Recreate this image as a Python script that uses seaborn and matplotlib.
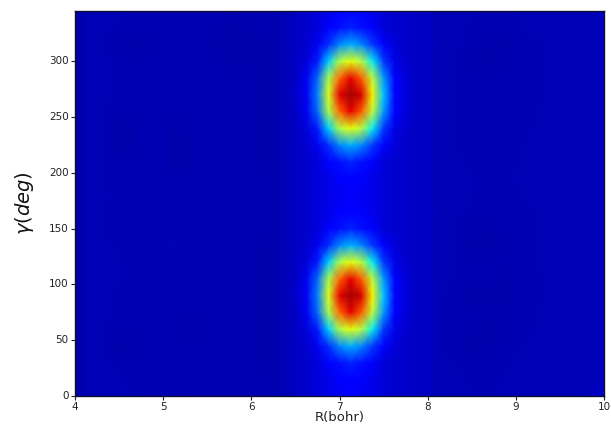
import numpy as np
import pandas as pd
import matplotlib
matplotlib.use("Agg")
import matplotlib.pyplot as plt
import seaborn as sns

# -----------------------------
# Values (percent of the colour range)
# columns: R = 4.0 ... 10.0 in steps of 0.125
# rows: gamma = 0 ... 345 in steps of 15
# -----------------------------
r_values = list(np.arange(49) * 0.125 + 4.0)
gamma_values = list(range(0, 360, 15))

x_ticks = [4, 5, 6, 7, 8, 9, 10]
y_ticks = [0, 50, 100, 150, 200, 250, 300]

g000 = [3,5,5,5,5,5,4.5,4.5,4.5,5,4.5,4.5,4.5,4.5,4.5,4.5,4.5,4.5,4.5, 5,6,7,8,9,10,11,10,9,8,7,7,6, 6,5,5,5,5,4.5,5,5,5,5,5,5,5,5,5,6,6]
g015 = [3,5,5,5,5,4.5,4.5,4.5,4.5,4.5,4.5,4.5,4.5,4.5,4.5,4.5,4.5,4.5,4.5, 5,6,7,8,9,11,12,11,9,8,7,7,6, 6,5,5,5,4.5,4.5,4.5,5,5,5,5,5,5,5,5,5,6]
g030 = [3,5,5,5,4.5,4.5,4.5,4.5,4.5,4.5,4.5,4.5,4.5,4.5,4.5,4.5,4.5,4,4.5, 5,6,7,8,11,14,16,14,11,8,7,7,6, 6,5,5,4.5,4.5,4.5,4.5,4.5,5,5,5,5,5,5,5,5,6]
g045 = [3,5,5,4.5,4,4,4.5,4.5,4.5,4.5,4.5,4.5,4.5,4.5,4.5,4.5,4.5,4,4.5, 5,6,7,10,17,26,30,26,18,11,8,7,6, 6,5,4.5,4.5,4,4,4.5,4.5,4.5,5,5,5,5,5,5,5,6]
g060 = [3,5,5,4.5,4.5,4.5,4.5,4.5,4.5,4.5,4,4,4.5,4.5,4.5,4.5,4.5,4,4.5, 5,6,8,15,33,56,63,57,36,18,9,7,6, 6,5,4.5,4.5,4.5,4,4,4.5,4.5,4.5,5,5,5,5,5,5,6]
g075 = [3,5,5,5,4.5,4.5,4.5,4.5,4.5,4.5,4.5,4.5,4.5,4.5,4.5,4.5,4.5,4,4.5, 5,6,10,23,55,80,91,81,58,28,12,8,6, 6,5,4.5,4.5,4.5,4.5,4.5,4.5,4.5,4.5,5,5,5,5,5,5,6]
g090 = [3,5,5,5,4.5,4.5,4.5,4.5,4.5,4.5,4.5,4.5,4.5,4.5,4.5,4.5,4.5,4,4.5, 5,7,10,25,61,91,97,92,65,32,13,8,6, 6,5,4.5,4.5,4,4,4,4,4.5,4.5,4.5,5,5,5,5,5,6]
g105 = [3,5,5,5,5,4.5,4.5,4.5,4.5,4.5,4.5,4.5,4.5,4.5,4.5,4.5,4.5,4,4.5, 5,6,10,23,55,80,91,81,58,28,12,8,6, 6,5,5,4.5,4.5,4.5,4.5,4,4.5,4.5,4.5,5,5,5,5,5,6]
g120 = [3,5,5,5,5,4.5,4.5,4.5,4.5,4.5,4.5,4.5,4.5,4.5,4.5,4.5,4.5,4,4.5, 5,6,8,15,33,56,63,57,36,18,9,7,6, 6,5,5,4.5,4.5,4.5,4.5,4.5,4.5,4.5,5,5,5,5,5,5,6]
g135 = [3,5,5,5,4.5,4.5,4.5,4.5,4.5,5,4.5,4.5,4.5,4.5,4.5,4.5,4.5,4,4.5, 5,6,7,10,17,26,30,26,18,11,8,7,6, 6,5,5,4.5,4,4,4,4.5,4.5,4.5,5,5,5,5,5,5,6]
g150 = [3,5,5,4.5,4.5,4.5,4.5,4.5,4.5,4.5,4.5,4.5,4.5,4.5,4.5,4.5,4.5,4.5,4.5, 5,6,7,8,11,14,16,14,11,8,7,7,6, 6,5,5,4.5,4.5,4,4.5,4.5,4.5,4.5,5,5,5,5,5,5,6]
g165 = [3,5,5,4.5,4.5,4.5,4.5,4.5,4.5,4.5,4.5,4.5,4.5,4.5,4.5,4.5,4.5,4.5,4.5, 5,6,7,8,9,11,12,11,9,8,7,7,6, 6,5,5,5,4.5,4.5,4.5,4.5,4.5,4.5,5,5,5,5,5,5,6]
g180 = [3,5,5,5,4.5,4.5,4.5,4.5,4.5,4.5,4.5,4.5,4.5,4.5,4.5,4.5,4.5,4.5,4.5, 5,6,7,8,9,10,11,10,9,8,7,7,6, 6,5,5,5,5,4.5,4.5,4.5,4.5,5,5,5,5,5,5,5,6]
g195 = [3,5,5,4.5,4.5,4.5,4.5,4.5,4.5,4.5,4.5,4.5,4.5,4.5,4.5,4.5,4.5,4.5,4.5, 5,6,7,8,9,11,12,11,9,8,7,7,6, 6,5,5,5,5,4.5,4.5,4.5,5,5,5,5,5,5,5,5,6]
g210 = [3,5,5,4.5,4.5,4.5,4.5,4.5,4.5,4,4,4.5,4.5,4.5,4.5,4.5,4.5,4,4.5, 5,6,7,8,11,14,16,14,11,8,7,7,6, 6,5,5,5,4.5,4.5,4.5,4.5,4.5,5,5,5,5,5,5,5,6]
g225 = [3,5,5,4.5,4,4,4.5,4.5,4.5,4,4,4.5,4.5,4.5,4.5,4.5,4.5,4,4.5, 5,6,7,10,17,26,30,26,18,11,8,7,6, 6,5,5,4.5,4.5,4.5,4.5,4.5,4.5,5,5,5,5,5,5,5,6]
g240 = [3,5,5,4.5,4,4,4.5,4.5,4.5,4,4.5,4.5,4.5,4.5,4.5,4.5,4.5,4,4.5, 5,6,8,15,33,56,63,57,36,18,9,7,6, 6,5,5,4.5,4.5,4.5,4.5,4.5,4.5,4.5,5,5,5,5,5,5,6]
g255 = [3,5,5,4.5,4.5,4.5,4.5,4.5,4.5,4.5,4.5,4.5,4.5,4.5,4.5,4.5,4.5,4,4.5, 5,6,10,23,55,80,91,81,58,28,12,8,6, 6,5,5,4.5,4.5,4.5,4.5,4.5,4.5,4.5,5,5,5,5,5,5,6]
g270 = [3,5,5,5,4.5,4.5,4.5,4.5,4.5,4.5,4.5,4.5,4.5,4.5,4.5,4.5,4.5,4,4.5, 5,7,10,25,61,91,97,92,65,32,13,8,6, 6,5,5,4.5,4.5,4.5,4.5,4.5,4.5,4.5,4.5,5,5,5,5,5,6]
g285 = [3,5,5,5,4.5,4.5,4.5,4.5,4.5,4.5,4.5,4.5,4.5,4.5,4.5,4.5,4.5,4,4.5, 5,6,10,23,55,80,91,81,58,28,12,8,6, 6,5,5,4.5,4.5,4.5,4.5,4.5,4.5,4.5,4.5,5,5,5,5,5,6]
g300 = [3,5,5,5,4.5,4.5,4.5,4.5,4.5,4.5,4.5,4.5,4.5,4.5,4,4,4,4,4.5, 5,6,8,15,33,56,63,57,36,18,9,7,6, 6,5,5,4.5,4.5,4,4,4.5,4.5,4.5,4.5,5,5,5,5,5,6]
g315 = [3,5,5,4.5,4.5,4,4,4.5,4.5,4.5,4.5,4.5,4.5,4,4,4,4,4,4.5, 5,6,7,10,17,26,30,26,18,11,8,7,6, 6,5,5,5,4.5,4.5,4,4,4.5,4.5,4.5,5,5,5,5,5,6]
g330 = [3,5,5,5,4.5,4.5,4.5,4.5,4.5,4.5,4.5,4.5,4.5,4.5,4,4,4.5,4.5,4.5, 5,6,7,8,11,14,16,14,11,8,7,7,6, 6,5,5,5,4.5,4.5,4.5,4.5,4.5,5,5,5,5,5,5,5,6]
g345 = [3,5,5,5,5,4.5,4.5,4.5,4.5,4.5,4.5,4.5,4.5,4.5,4.5,4.5,4.5,4.5,4.5, 5,6,7,8,9,11,12,11,9,8,7,7,6, 6,5,5,5,5,4.5,4.5,4.5,5,5,5,5,5,5,5,5,6]

rows = [g000, g015, g030, g045, g060, g075, g090, g105, g120, g135, g150, g165,
        g180, g195, g210, g225, g240, g255, g270, g285, g300, g315, g330, g345]

df = pd.DataFrame(rows, index=gamma_values, columns=r_values)

# -----------------------------
# Plot
# -----------------------------
sns.set_theme(style="white")
plt.rcParams['mathtext.default'] = 'it'

fig = plt.figure(figsize=(6.11, 4.25), dpi=100)
ax = fig.add_axes([75 / 611, 1 - 396 / 425, 529 / 611, 385 / 425])

sns.heatmap(df, ax=ax, cmap='jet', vmin=0, vmax=100, cbar=False,
            shading='gouraud')

ax.set_xlim(0, len(r_values) - 1)
ax.set_ylim(0, len(gamma_values) - 1)

ax.set_xticks([(t - r_values[0]) / 0.125 for t in x_ticks])
ax.set_xticklabels(x_ticks, rotation=0)
ax.set_yticks([t / 15 for t in y_ticks])
ax.set_yticklabels(y_ticks, rotation=0)
ax.tick_params(left=True, bottom=True, length=3, width=0.8, pad=1.5,
               labelsize=7.5, colors='#222222')

for side in ax.spines.values():
    side.set_visible(True)
    side.set_color('#101030')
    side.set_linewidth(1.0)

ax.set_xlabel('R(bohr)', fontsize=9.5, labelpad=-0.8, color='#222222')
ax.set_ylabel(r'$\gamma (deg)$', fontsize=14, labelpad=9, color='#111111')

fig.savefig('out.png', dpi=100)
